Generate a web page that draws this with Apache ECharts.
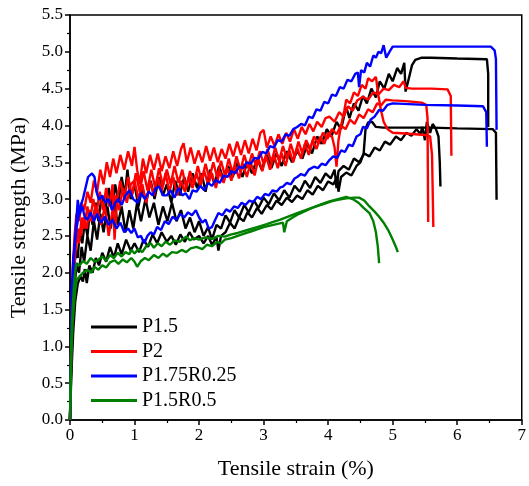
<!DOCTYPE html>
<html><head><meta charset="utf-8">
<script src="https://cdn.jsdelivr.net/npm/echarts@6/dist/echarts.min.js"></script>
<style>html,body{margin:0;padding:0;background:#fff}#c{width:529px;height:486px}</style>
</head><body><div id="c"></div>
<script>
// Tick settings
const xTicks = [0,1,2,3,4,5,6,7];
const yTicks = [0,0.5,1,1.5,2,2.5,3,3.5,4,4.5,5,5.5];
const groupNames = ['P1.5','P2','P1.75R0.25','P1.5R0.5'];

// P1.5 specimens [strain %, strength MPa]
const p15_a = [[0,0],[0.02,0.9],[0.04,1.6],[0.06,2.0],[0.09,2.3],[0.12,2.2],[0.15,2.55],[0.19,2.4],[0.23,2.7],[0.27,2.5],[0.31,2.85],[0.35,2.65],[0.4,2.95],[0.44,2.7],[0.49,3.05],[0.54,2.8],[0.6,3.15],[0.65,2.9],[0.7,3.2],[0.75,2.95],[0.8,3.3],[0.85,3.05],[0.89,3.4],[0.94,3.0],[1.0,3.2],[1.06,2.9],[1.12,3.15],[1.18,2.95],[1.25,3.25],[1.31,3.0],[1.38,3.3],[1.44,3.05],[1.5,3.2],[1.57,2.95],[1.63,3.25],[1.7,3.05],[1.77,3.3],[1.83,3.1],[1.9,3.35],[1.97,3.15],[2.04,3.35],[2.1,3.1],[2.17,3.4],[2.24,3.2],[2.31,3.45],[2.38,3.25],[2.45,3.45],[2.52,3.3],[2.6,3.5],[2.67,3.3],[2.75,3.5],[2.82,3.35],[2.9,3.55],[2.97,3.4],[3.05,3.6],[3.12,3.42],[3.2,3.62],[3.28,3.45],[3.36,3.65],[3.44,3.5],[3.52,3.65],[3.6,3.55],[3.68,3.75],[3.75,3.62],[3.83,3.85],[3.9,3.75],[3.98,3.95],[4.05,3.85],[4.13,4.05],[4.2,3.95],[4.28,4.25],[4.33,4.1],[4.4,4.3],[4.47,4.2],[4.54,4.4],[4.6,4.3],[4.67,4.5],[4.74,4.38],[4.8,4.6],[4.87,4.5],[4.94,4.7],[5.0,4.6],[5.07,4.78],[5.13,4.7],[5.18,4.85],[5.2,4.46],[5.24,4.6],[5.3,4.82],[5.35,4.89],[5.45,4.92],[5.6,4.92],[6.0,4.91],[6.46,4.9],[6.48,4.7],[6.48,3.98]];
const p15_b = [[0,0],[0.02,0.7],[0.04,1.3],[0.07,1.8],[0.1,2.1],[0.14,2.0],[0.18,2.35],[0.22,2.15],[0.27,2.5],[0.32,2.3],[0.37,2.7],[0.42,2.45],[0.47,2.8],[0.52,2.55],[0.58,2.9],[0.63,2.6],[0.69,2.95],[0.74,2.65],[0.8,2.9],[0.86,2.55],[0.92,2.85],[0.98,2.6],[1.04,2.95],[1.1,2.7],[1.17,3.0],[1.23,2.75],[1.3,2.95],[1.37,2.65],[1.44,2.9],[1.51,2.7],[1.58,2.95],[1.65,2.7],[1.72,2.85],[1.79,2.6],[1.86,2.75],[1.93,2.55],[2.0,2.7],[2.07,2.5],[2.14,2.62],[2.2,2.45],[2.27,2.65],[2.34,2.6],[2.41,2.78],[2.48,2.68],[2.55,2.85],[2.62,2.75],[2.7,2.92],[2.77,2.82],[2.85,2.98],[2.92,2.88],[3.0,3.02],[3.08,2.93],[3.16,3.08],[3.24,2.98],[3.32,3.12],[3.4,3.02],[3.48,3.18],[3.56,3.1],[3.64,3.25],[3.72,3.15],[3.8,3.3],[3.88,3.22],[3.96,3.35],[4.04,3.28],[4.1,3.4],[4.13,3.15],[4.16,3.38],[4.24,3.45],[4.32,3.4],[4.4,3.55],[4.48,3.5],[4.56,3.62],[4.64,3.58],[4.72,3.7],[4.8,3.66],[4.88,3.78],[4.96,3.74],[5.05,3.85],[5.13,3.8],[5.21,3.9],[5.29,3.86],[5.37,3.95],[5.43,3.88],[5.46,3.98],[5.5,3.8],[5.53,4.05],[5.58,3.9],[5.62,4.02],[5.67,3.95],[5.71,3.85],[5.73,3.5],[5.74,3.17]];
const p15_c = [[0,0],[0.02,0.6],[0.05,1.2],[0.08,1.6],[0.12,1.85],[0.16,1.95],[0.2,1.88],[0.23,2.05],[0.26,1.86],[0.3,2.1],[0.35,2.0],[0.4,2.2],[0.45,2.1],[0.5,2.27],[0.56,2.15],[0.62,2.35],[0.68,2.2],[0.74,2.4],[0.8,2.25],[0.87,2.45],[0.94,2.3],[1.0,2.4],[1.07,2.28],[1.14,2.45],[1.21,2.35],[1.28,2.52],[1.35,2.4],[1.42,2.55],[1.5,2.42],[1.57,2.5],[1.64,2.38],[1.71,2.52],[1.78,2.42],[1.85,2.55],[1.92,2.45],[2.0,2.5],[2.07,2.4],[2.14,2.5],[2.2,2.38],[2.27,2.48],[2.3,2.3],[2.34,2.5],[2.41,2.55],[2.48,2.68],[2.55,2.6],[2.62,2.75],[2.69,2.7],[2.75,2.82],[2.82,2.75],[2.9,2.88],[2.97,2.8],[3.05,2.92],[3.12,2.86],[3.2,2.98],[3.28,2.92],[3.36,3.02],[3.44,2.96],[3.52,3.05],[3.6,3.0],[3.68,3.12],[3.76,3.06],[3.84,3.18],[3.92,3.12],[4.0,3.24],[4.08,3.2],[4.14,3.3],[4.16,3.1],[4.2,3.3],[4.28,3.36],[4.36,3.32],[4.44,3.45],[4.5,3.5],[4.55,3.62],[4.58,3.96],[4.62,4.04],[4.68,4.05],[4.74,3.98],[4.85,3.97],[5.2,3.97],[5.6,3.97],[6.0,3.96],[6.55,3.95],[6.6,3.9],[6.61,2.99]];

// P2 specimens
const p2_a = [[0,0],[0.02,1.2],[0.04,2.0],[0.07,2.5],[0.1,2.8],[0.14,2.7],[0.18,2.95],[0.22,2.85],[0.27,3.1],[0.32,2.95],[0.37,3.25],[0.42,3.1],[0.47,3.4],[0.52,3.2],[0.57,3.5],[0.62,3.3],[0.67,3.55],[0.72,3.35],[0.78,3.6],[0.84,3.4],[0.9,3.65],[0.96,3.45],[1.0,3.71],[1.04,3.4],[1.08,3.2],[1.13,3.55],[1.18,3.35],[1.24,3.6],[1.3,3.4],[1.36,3.62],[1.42,3.38],[1.48,3.58],[1.54,3.42],[1.6,3.65],[1.66,3.45],[1.72,3.68],[1.76,3.76],[1.81,3.5],[1.87,3.7],[1.93,3.48],[1.99,3.66],[2.05,3.5],[2.11,3.72],[2.17,3.52],[2.23,3.7],[2.29,3.5],[2.35,3.68],[2.41,3.55],[2.47,3.75],[2.53,3.58],[2.59,3.78],[2.65,3.6],[2.71,3.8],[2.77,3.62],[2.83,3.82],[2.89,3.66],[2.95,3.9],[3.0,3.94],[3.05,3.7],[3.11,3.85],[3.17,3.72],[3.23,3.88],[3.29,3.75],[3.35,3.9],[3.41,3.78],[3.47,3.95],[3.53,3.82],[3.59,3.98],[3.65,3.88],[3.71,4.02],[3.77,3.92],[3.83,4.05],[3.9,3.98],[3.96,4.1],[4.02,4.12],[4.1,4.05],[4.17,4.18],[4.24,4.12],[4.31,4.26],[4.38,4.2],[4.45,4.34],[4.54,4.39],[4.62,4.35],[4.7,4.45],[4.78,4.42],[4.86,4.5],[4.94,4.48],[5.02,4.55],[5.1,4.52],[5.17,4.6],[5.2,4.51],[5.3,4.5],[5.6,4.5],[5.85,4.49],[5.9,4.4],[5.91,3.59]];
const p2_b = [[0,0],[0.02,1.0],[0.04,1.7],[0.07,2.2],[0.1,2.5],[0.14,2.4],[0.18,2.75],[0.22,2.6],[0.27,2.9],[0.31,2.7],[0.36,3.0],[0.41,2.8],[0.46,3.1],[0.51,2.85],[0.56,3.15],[0.61,2.9],[0.66,3.2],[0.69,2.45],[0.73,3.0],[0.78,3.25],[0.84,3.0],[0.9,3.3],[0.96,3.05],[1.02,3.35],[1.08,3.1],[1.14,3.38],[1.2,3.12],[1.26,3.4],[1.32,3.15],[1.38,3.42],[1.44,3.18],[1.5,3.4],[1.56,3.2],[1.62,3.45],[1.68,3.22],[1.74,3.4],[1.8,3.15],[1.86,3.38],[1.92,3.2],[1.98,3.45],[2.04,3.25],[2.1,3.48],[2.16,3.28],[2.22,3.5],[2.28,3.3],[2.34,3.52],[2.4,3.32],[2.46,3.55],[2.52,3.35],[2.58,3.58],[2.64,3.38],[2.7,3.6],[2.76,3.42],[2.82,3.62],[2.88,3.45],[2.94,3.65],[3.0,3.48],[3.06,3.68],[3.12,3.5],[3.18,3.7],[3.24,3.52],[3.3,3.72],[3.36,3.55],[3.42,3.75],[3.48,3.58],[3.54,3.78],[3.6,3.62],[3.66,3.8],[3.72,3.68],[3.78,3.85],[3.85,3.75],[3.92,3.9],[3.99,3.82],[4.06,3.95],[4.13,3.88],[4.2,4.0],[4.27,3.95],[4.34,4.08],[4.41,4.02],[4.48,4.15],[4.55,4.1],[4.62,4.22],[4.69,4.18],[4.76,4.3],[4.82,4.27],[4.89,4.35],[5.0,4.34],[5.2,4.33],[5.45,4.31],[5.52,4.28],[5.54,4.1],[5.55,2.69]];
const p2_c = [[0,0],[0.01,0.5],[0.02,1.02],[0.04,1.6],[0.06,2.0],[0.09,2.35],[0.13,2.6],[0.17,2.5],[0.21,2.75],[0.26,2.6],[0.3,2.85],[0.35,2.7],[0.4,2.9],[0.43,2.85],[0.48,2.65],[0.54,2.9],[0.6,2.5],[0.65,2.8],[0.7,3.05],[0.76,2.85],[0.82,3.15],[0.88,2.95],[0.94,3.2],[1.0,3.25],[1.06,3.0],[1.12,3.2],[1.18,2.95],[1.24,3.25],[1.3,3.05],[1.36,3.3],[1.42,3.1],[1.48,3.35],[1.54,3.1],[1.6,3.3],[1.66,3.05],[1.72,3.25],[1.78,3.1],[1.84,3.3],[1.9,3.15],[1.96,3.35],[2.02,3.18],[2.08,3.38],[2.14,3.2],[2.2,3.35],[2.26,3.15],[2.32,3.38],[2.38,3.22],[2.44,3.42],[2.5,3.25],[2.56,3.45],[2.62,3.28],[2.68,3.48],[2.74,3.3],[2.8,3.5],[2.86,3.32],[2.92,3.55],[2.98,3.38],[3.04,3.58],[3.1,3.4],[3.16,3.6],[3.22,3.42],[3.28,3.62],[3.34,3.45],[3.4,3.66],[3.46,3.5],[3.52,3.7],[3.58,3.55],[3.64,3.75],[3.7,3.6],[3.76,3.8],[3.82,3.68],[3.88,3.85],[3.94,3.75],[4.0,3.9],[4.06,3.85],[4.1,3.7],[4.13,3.44],[4.16,3.8],[4.2,4.0],[4.25,4.2],[4.28,4.35],[4.34,4.3],[4.4,4.45],[4.46,4.4],[4.52,4.55],[4.58,4.5],[4.62,4.64],[4.68,4.6],[4.74,4.66],[4.78,4.4],[4.82,4.2],[4.86,4.05],[4.92,3.95],[5.0,3.9],[5.2,3.89],[5.5,3.87],[5.58,3.85],[5.61,3.6],[5.63,2.62]];

// P1.75R0.25 specimens
const p175_a = [[0,0],[0.02,1.2],[0.03,1.8],[0.05,2.2],[0.07,2.35],[0.1,2.6],[0.13,2.75],[0.16,2.9],[0.2,3.0],[0.24,3.15],[0.28,3.3],[0.3,3.32],[0.34,3.35],[0.38,3.3],[0.41,3.1],[0.45,2.99],[0.5,3.05],[0.55,2.95],[0.6,3.0],[0.65,2.85],[0.7,2.95],[0.75,3.0],[0.8,2.92],[0.86,3.05],[0.92,3.12],[0.98,3.0],[1.05,2.95],[1.1,3.08],[1.16,3.0],[1.22,3.1],[1.28,3.05],[1.33,3.15],[1.38,3.17],[1.44,3.05],[1.5,3.05],[1.56,3.12],[1.62,3.02],[1.68,3.15],[1.74,3.05],[1.79,3.08],[1.85,3.0],[1.9,3.12],[1.96,3.1],[2.02,3.18],[2.08,3.12],[2.14,3.22],[2.2,3.18],[2.26,3.26],[2.32,3.22],[2.38,3.32],[2.44,3.3],[2.5,3.38],[2.56,3.35],[2.62,3.44],[2.68,3.42],[2.74,3.5],[2.8,3.48],[2.86,3.56],[2.92,3.55],[2.98,3.64],[3.04,3.62],[3.1,3.72],[3.16,3.7],[3.22,3.8],[3.28,3.78],[3.34,3.88],[3.4,3.86],[3.46,3.95],[3.52,3.98],[3.58,4.02],[3.64,4.0],[3.7,4.12],[3.76,4.1],[3.82,4.22],[3.88,4.2],[3.94,4.32],[4.0,4.3],[4.06,4.42],[4.12,4.4],[4.18,4.52],[4.24,4.5],[4.3,4.62],[4.36,4.6],[4.42,4.7],[4.46,4.72],[4.48,4.52],[4.51,4.75],[4.56,4.72],[4.6,4.85],[4.65,4.8],[4.7,4.95],[4.74,4.92],[4.78,5.0],[4.82,4.98],[4.86,5.09],[4.9,4.92],[4.95,5.0],[5.0,5.07],[5.5,5.07],[6.0,5.07],[6.52,5.07],[6.58,5.02],[6.6,4.9],[6.61,3.94]];
const p175_b = [[0,0],[0.02,1.0],[0.04,1.7],[0.06,2.2],[0.09,2.6],[0.12,2.99],[0.15,2.8],[0.19,2.9],[0.23,2.75],[0.27,2.72],[0.32,2.82],[0.37,2.7],[0.42,2.8],[0.48,2.68],[0.54,2.76],[0.6,2.65],[0.66,2.72],[0.72,2.6],[0.78,2.68],[0.84,2.55],[0.9,2.6],[0.95,2.54],[1.0,2.6],[1.05,2.48],[1.1,2.5],[1.15,2.4],[1.2,2.5],[1.25,2.55],[1.3,2.52],[1.35,2.62],[1.41,2.58],[1.47,2.7],[1.53,2.66],[1.59,2.76],[1.65,2.72],[1.71,2.8],[1.77,2.75],[1.83,2.82],[1.89,2.78],[1.95,2.85],[2.0,2.75],[2.05,2.68],[2.1,2.72],[2.15,2.6],[2.2,2.62],[2.25,2.72],[2.3,2.81],[2.36,2.78],[2.42,2.86],[2.48,2.83],[2.54,2.9],[2.6,2.88],[2.66,2.95],[2.72,2.92],[2.78,2.98],[2.84,2.96],[2.9,3.03],[2.96,3.0],[3.02,3.07],[3.08,3.05],[3.14,3.12],[3.2,3.1],[3.26,3.16],[3.3,3.17],[3.36,3.22],[3.42,3.2],[3.48,3.28],[3.52,3.3],[3.58,3.34],[3.64,3.32],[3.7,3.4],[3.78,3.44],[3.84,3.42],[3.9,3.48],[3.96,3.46],[4.02,3.53],[4.08,3.58],[4.14,3.56],[4.2,3.66],[4.26,3.64],[4.32,3.74],[4.38,3.72],[4.44,3.85],[4.5,3.88],[4.54,3.98],[4.6,3.96],[4.66,4.08],[4.72,4.12],[4.79,4.21],[4.85,4.2],[4.92,4.28],[5.0,4.3],[5.5,4.28],[6.0,4.27],[6.4,4.26],[6.45,4.18],[6.46,3.71]];

// P1.5R0.5 specimens
const p15r_a = [[0,0],[0.01,0.6],[0.02,1.1],[0.04,1.5],[0.06,1.8],[0.08,2.0],[0.1,2.13],[0.15,2.1],[0.2,2.16],[0.26,2.12],[0.32,2.2],[0.38,2.15],[0.43,2.17],[0.5,2.22],[0.56,2.16],[0.62,2.24],[0.68,2.2],[0.74,2.27],[0.8,2.22],[0.86,2.28],[0.92,2.25],[0.95,2.31],[1.0,2.26],[1.06,2.32],[1.12,2.28],[1.18,2.36],[1.25,2.4],[1.3,2.34],[1.36,2.4],[1.42,2.36],[1.48,2.42],[1.55,2.38],[1.62,2.44],[1.7,2.42],[1.8,2.49],[1.86,2.44],[1.92,2.47],[2.0,2.45],[2.1,2.48],[2.2,2.46],[2.3,2.5],[2.4,2.49],[2.5,2.52],[2.6,2.54],[2.75,2.58],[2.9,2.62],[3.05,2.66],[3.15,2.69],[3.26,2.72],[3.4,2.77],[3.52,2.81],[3.65,2.85],[3.78,2.89],[3.9,2.93],[4.02,2.97],[4.15,3.0],[4.28,3.03],[4.38,3.0],[4.47,2.95],[4.55,2.88],[4.64,2.81],[4.7,2.7],[4.74,2.55],[4.77,2.35],[4.79,2.13]];
const p15r_b = [[0,0],[0.01,0.4],[0.02,0.9],[0.04,1.3],[0.06,1.55],[0.08,1.75],[0.1,1.9],[0.15,1.95],[0.2,2.0],[0.27,2.04],[0.33,2.0],[0.38,2.08],[0.44,2.04],[0.5,2.1],[0.56,2.07],[0.62,2.14],[0.69,2.17],[0.75,2.12],[0.82,2.18],[0.88,2.14],[0.95,2.2],[1.0,2.15],[1.04,2.08],[1.1,2.16],[1.16,2.2],[1.22,2.17],[1.3,2.24],[1.37,2.2],[1.44,2.26],[1.5,2.22],[1.58,2.28],[1.66,2.27],[1.73,2.31],[1.8,2.28],[1.87,2.33],[1.96,2.35],[2.05,2.32],[2.12,2.38],[2.2,2.36],[2.28,2.42],[2.34,2.4],[2.4,2.45],[2.5,2.47],[2.6,2.5],[2.7,2.53],[2.8,2.56],[2.9,2.59],[3.0,2.62],[3.1,2.64],[3.2,2.66],[3.3,2.68],[3.32,2.55],[3.36,2.7],[3.45,2.75],[3.55,2.8],[3.65,2.84],[3.75,2.88],[3.85,2.91],[3.95,2.94],[4.05,2.97],[4.15,2.99],[4.28,3.01],[4.4,3.02],[4.48,3.02],[4.56,2.98],[4.64,2.9],[4.72,2.83],[4.79,2.76],[4.86,2.68],[4.93,2.58],[5.0,2.45],[5.05,2.35],[5.08,2.28]];

const colors = ['#000000','#ff0000','#0000ff','#008000'];
const groups = [[p15_a,p15_b,p15_c],[p2_a,p2_b,p2_c],[p175_a,p175_b],[p15r_a,p15r_b]];

const FONT = '"Liberation Serif","Times New Roman",serif';
const series = [];
groups.forEach((g, gi) => {
  g.forEach(d => {
    series.push({
      name: groupNames[gi], type: 'line', data: d, showSymbol: false, symbol: 'none',
      lineStyle: {color: colors[gi], width: 2.4}, itemStyle: {color: colors[gi]},
      animation: false, silent: true
    });
  });
});

const chart = echarts.init(document.getElementById('c'), null, {renderer: 'canvas'});
chart.setOption({
  animation: false,
  backgroundColor: '#ffffff',
  grid: {left: 70, right: 2, top: 15, bottom: 66, show: true, borderColor: '#000', borderWidth: 1.5, backgroundColor: 'transparent'},
  legend: {
    data: groupNames, orient: 'vertical', left: 86, top: 312,
    icon: 'rect', itemWidth: 46, itemHeight: 3, itemGap: 4.5,
    textStyle: {fontFamily: FONT, fontSize: 20, color: '#000', lineHeight: 20, padding: [0,0,0,0]},
    selectedMode: false
  },
  xAxis: {
    type: 'value', min: xTicks[0], max: xTicks[xTicks.length-1], interval: 1,
    name: 'Tensile strain (%)', nameLocation: 'middle', nameGap: 38,
    nameTextStyle: {fontFamily: FONT, fontSize: 22, color: '#000'},
    axisLine: {lineStyle: {color: '#000', width: 1.5}},
    axisTick: {show: true, length: 5, lineStyle: {color: '#000', width: 1.5}},
    minorTick: {show: true, splitNumber: 2, length: 3, lineStyle: {color: '#000', width: 1.2}},
    axisLabel: {fontFamily: FONT, fontSize: 17, color: '#000', margin: 7},
    splitLine: {show: false}
  },
  yAxis: {
    type: 'value', min: yTicks[0], max: yTicks[yTicks.length-1], interval: 0.5,
    name: 'Tensile strength (MPa)', nameLocation: 'middle', nameGap: 40,
    nameTextStyle: {fontFamily: FONT, fontSize: 22, color: '#000'},
    axisLine: {show: true, lineStyle: {color: '#000', width: 1.5}},
    axisTick: {show: true, length: 5, lineStyle: {color: '#000', width: 1.5}},
    minorTick: {show: true, splitNumber: 2, length: 3, lineStyle: {color: '#000', width: 1.2}},
    axisLabel: {fontFamily: FONT, fontSize: 17, color: '#000', margin: 7, formatter: v => v.toFixed(1)},
    splitLine: {show: false}
  },
  series: series
});
</script></body></html>
